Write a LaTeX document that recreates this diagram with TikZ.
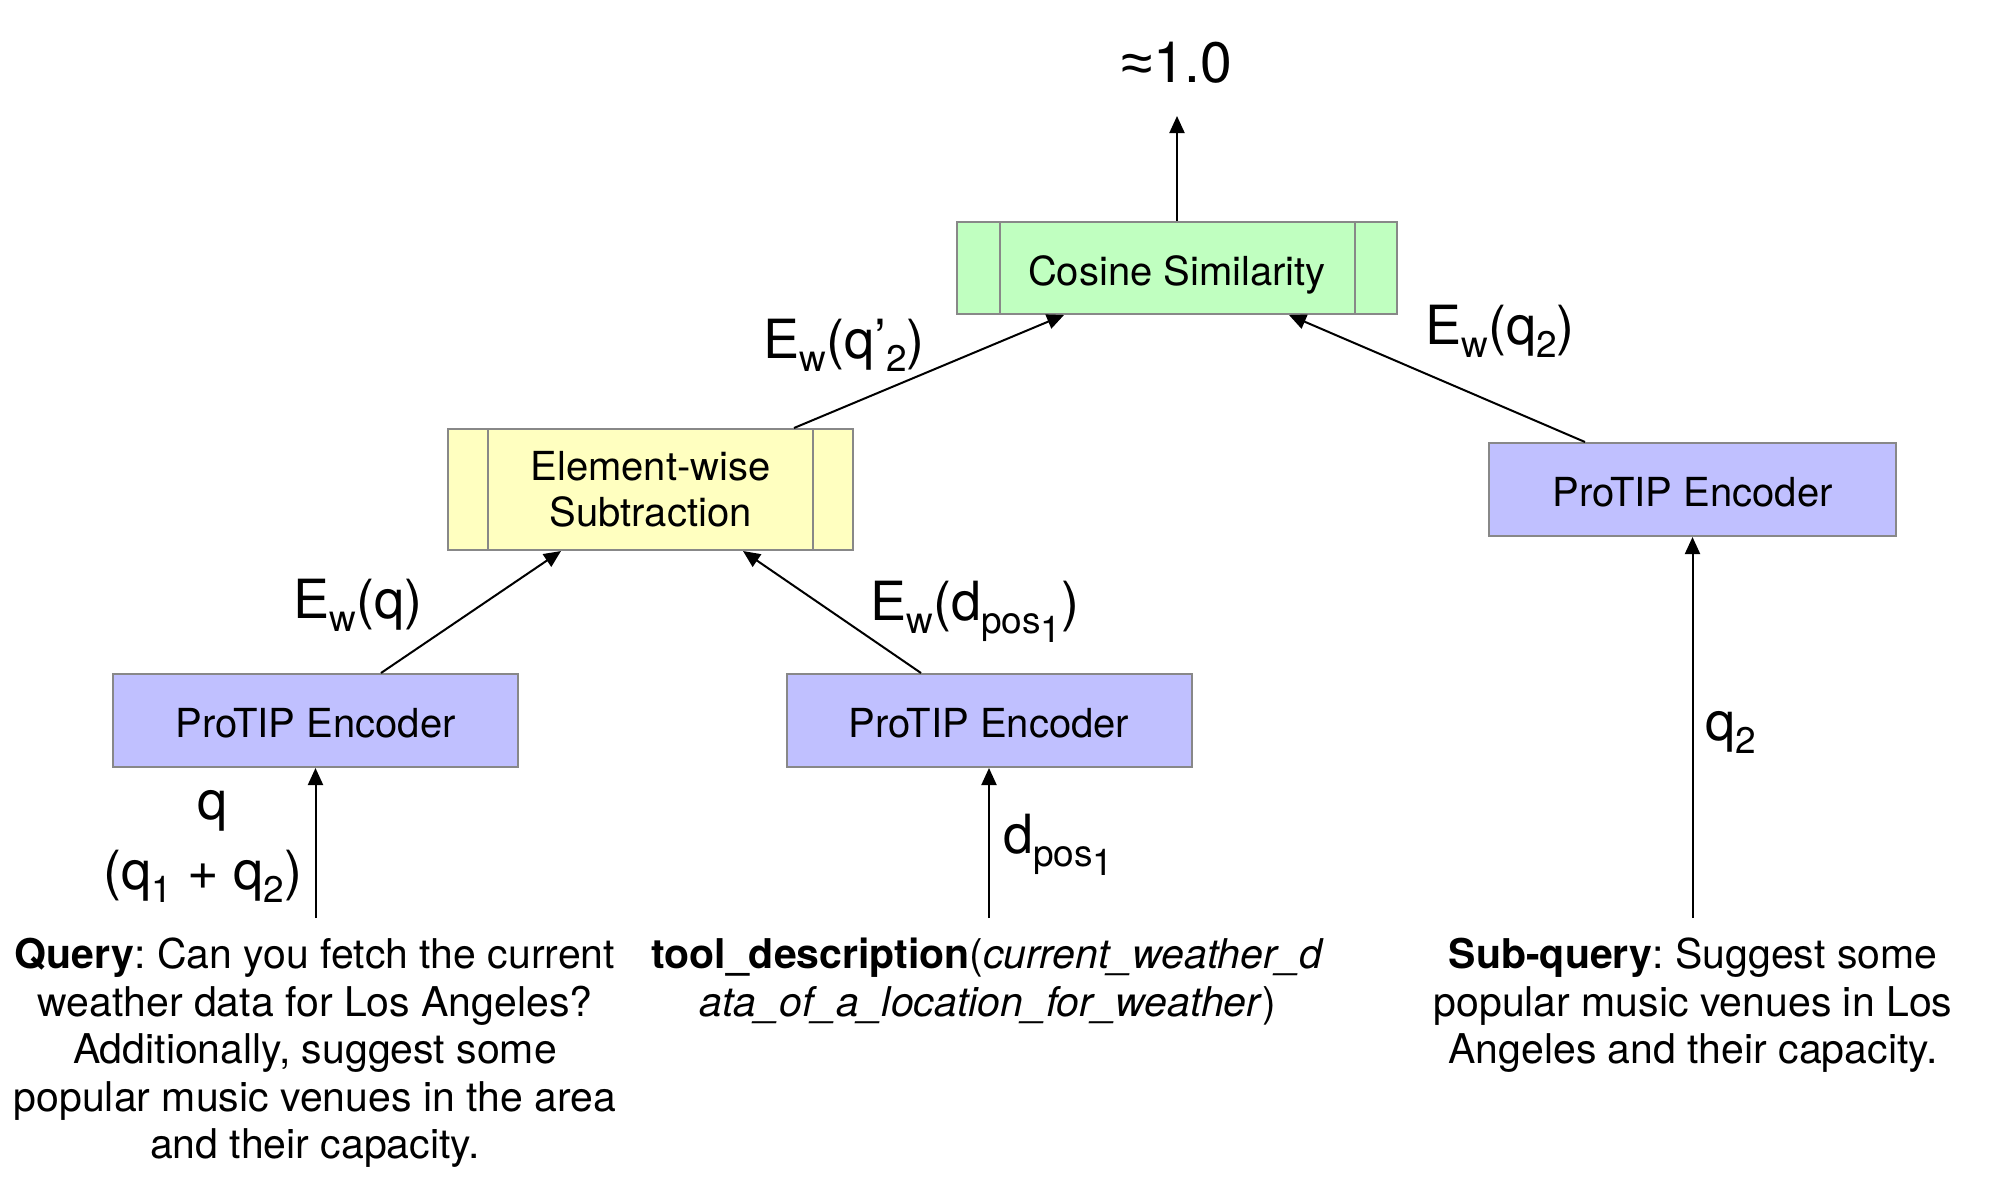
\documentclass[tikz,border=0pt]{standalone}
\usepackage{fontspec}
\setmainfont{TeX Gyre Heros}
\newfontfamily\symfont{Liberation Sans}
\usetikzlibrary{arrows.meta,calc}
\definecolor{boxgray}{RGB}{136,136,136}
\definecolor{cosgreen}{RGB}{192,255,192}
\definecolor{subyellow}{RGB}{255,255,192}
\definecolor{encblue}{RGB}{192,192,255}
\frenchspacing
\newcommand{\lsub}[1]{\raisebox{-0.25em}{\fontsize{37}{37}\selectfont #1}}
\tikzset{
  box/.style={draw=boxgray, line width=2pt, minimum height=93pt, minimum width=405pt,
    inner sep=0pt, font=\fontsize{40}{46}\selectfont, align=center},
  onebox/.style={box, text height=34pt, text depth=0pt},
  enc/.style={onebox, fill=encblue},
  arr/.style={line width=2pt, -{Triangle[length=17pt,width=15pt]}},
  lbl/.style={font=\fontsize{54}{66}\selectfont, inner sep=0pt},
  txt/.style={font=\fontsize{41}{47.4}\selectfont, align=center, inner sep=0pt, anchor=north},
  divider/.style={draw=boxgray, line width=2pt}
}
\begin{document}
\begin{tikzpicture}[x=1pt,y=-1pt]
\useasboundingbox (0,0) rectangle (1991,1178);
% boxes
\node[onebox, fill=cosgreen, minimum width=440pt, minimum height=92pt] (cos) at (1177,268) {Cosine Similarity};
\node[box, fill=subyellow, minimum height=121pt] (sub) at (650.5,489.5) {Element-wise\\Subtraction};
\node[enc] (enc1) at (315.5,720.5) {ProTIP Encoder};
\node[enc] (enc2) at (989,720.5) {ProTIP Encoder};
\node[enc, minimum width=407pt] (enc3) at (1692.5,489.5) {ProTIP Encoder};
% dividers
\draw[divider] ($(cos.north west)+(44,0)$) -- ($(cos.south west)+(44,0)$);
\draw[divider] ($(cos.north east)+(-43,0)$) -- ($(cos.south east)+(-43,0)$);
\draw[divider] ($(sub.north west)+(41,0)$) -- ($(sub.south west)+(41,0)$);
\draw[divider] ($(sub.north east)+(-41,0)$) -- ($(sub.south east)+(-41,0)$);
% labels
\node[lbl, anchor=base, font=\fontsize{57}{66}\selectfont] (res) at (1177,82) {{\symfont ≈}1.0};
\node[lbl, anchor=base] (lq2p) at (844,358) {E\lsub{w}(q’\lsub{2})};
\node[lbl, anchor=base] (lq2) at (1500,344) {E\lsub{w}(q\lsub{2})};
\node[lbl, anchor=base] (lq) at (358,618) {E\lsub{w}(q)};
\node[lbl, anchor=base] (ld) at (975,620) {E\lsub{w}(d\lsub{pos\lsub{1}})};
\node[lbl, anchor=base] (lqa) at (213,819) {q};
\node[lbl, anchor=base] (lqb) at (203,889) {(q\lsub{1} + q\lsub{2})};
\node[lbl, anchor=base west] (ldin) at (1003,853) {d\lsub{pos\lsub{1}}};
\node[lbl, anchor=base west] (lq2in) at (1705,740) {q\lsub{2}};
% texts
\node[txt] (query) at (315,938) {\textbf{Query}: Can you fetch the current\\weather data for Los Angeles?\\Additionally, suggest some\\popular music venues in the area\\and their capacity.};
\node[txt] (tool) at (988,938) {\textbf{tool\_description}(\textit{current\_weather\_d}\\\textit{ata\_of\_a\_location\_for\_weather})};
\node[txt] (subq) at (1693,938) {\textbf{Sub-query}: Suggest some\\popular music venues in Los\\Angeles and their capacity.};
% free ends
\coordinate (top) at ($(cos.north)+(0,-105)$);
\coordinate (in1) at ($(enc1.south)+(0,150)$);
\coordinate (in2) at ($(enc2.south)+(0,150)$);
\coordinate (in3) at ($(enc3.south)+(0,381)$);
% connectors
\draw[arr] (cos.north) -- (top);
\draw[arr] (in1) -- (enc1.south);
\draw[arr] (in2) -- (enc2.south);
\draw[arr] (in3) -- (enc3.south);
\draw[arr] ($(enc1.north)+(65.5,0)$) -- ($(sub.south)+(-89.5,0)$);
\draw[arr] ($(enc2.north)+(-68,0)$) -- ($(sub.south)+(92.5,0)$);
\draw[arr] ($(sub.north)+(143.5,0)$) -- ($(cos.south)+(-113,0)$);
\draw[arr] ($(enc3.north)+(-107.5,0)$) -- ($(cos.south)+(112,0)$);
\end{tikzpicture}
\end{document}
